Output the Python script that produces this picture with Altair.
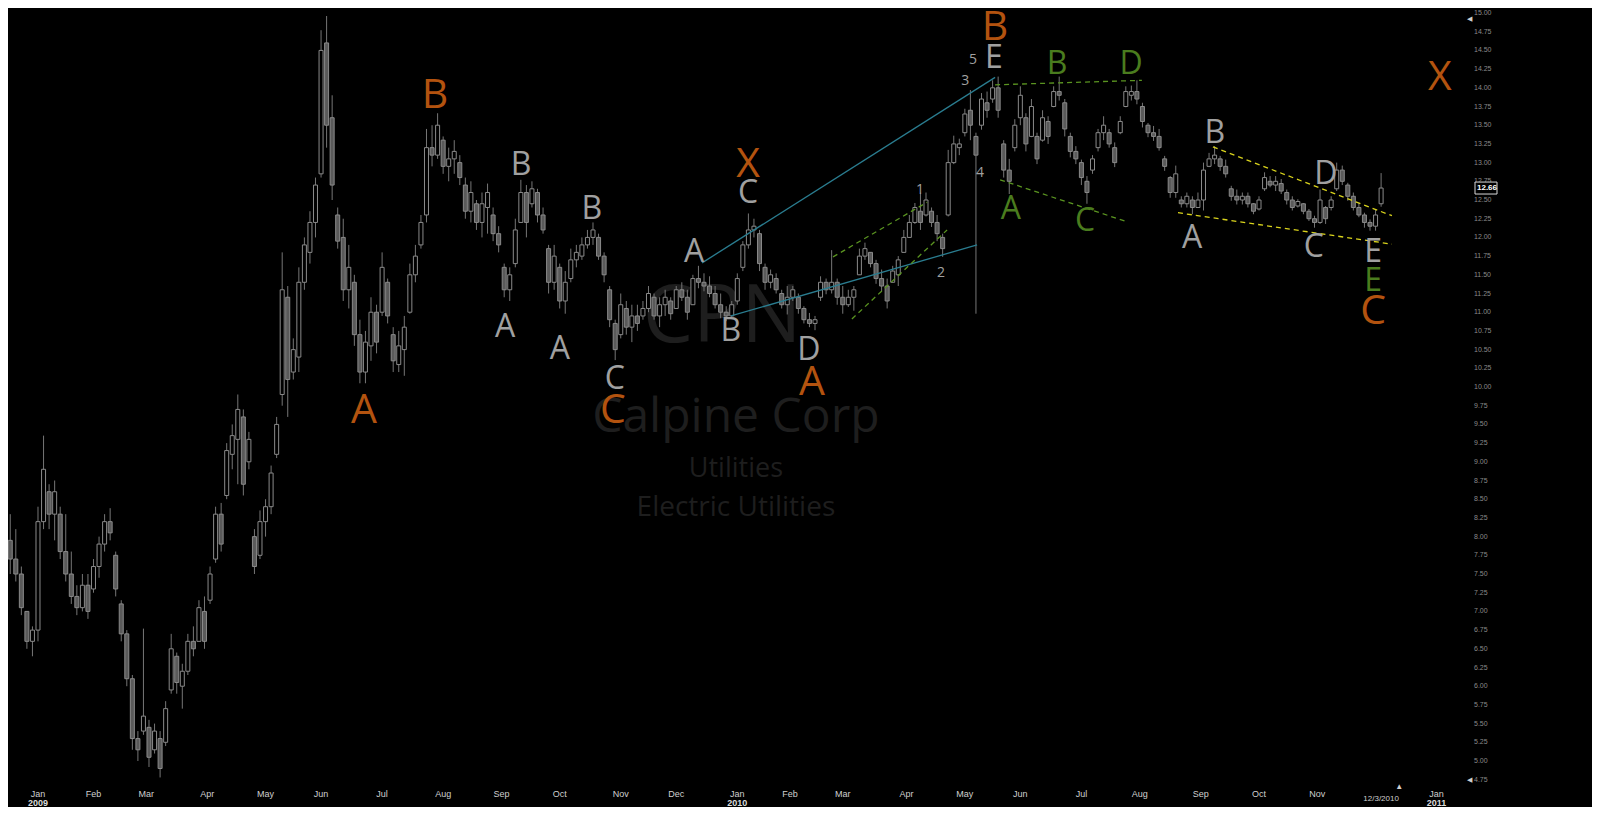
import altair as alt
import pandas as pd

# ---------------- price bars: one bar every second trading day, index 0 = 2 Jan 2009
bar_index = list(range(-14, 485, 2))

high = [
    8.3, 8.1, 8.3, 8.1, 7.6, 7.0, 6.8, 8.4, 9.35, 8.7,
    8.75, 8.4, 8.3, 7.8, 7.35, 7.5, 7.5, 7.7, 8.0, 8.3,
    8.38, 7.8, 7.15, 6.75, 6.15, 5.4, 6.77, 5.55, 5.5, 5.4,
    5.8, 6.7, 6.45, 6.3, 6.7, 6.8, 7.15, 7.2, 7.6, 8.4,
    8.45, 9.25, 9.5, 9.9, 9.7, 9.4, 8.1, 8.35, 8.5, 8.95,
    9.6, 11.8, 11.35, 10.65, 11.6, 12.0, 12.35, 12.8, 14.77, 14.96,
    13.9, 12.4, 12.25, 11.9, 11.5, 10.9, 10.75, 11.2, 11.1, 11.8,
    11.45, 10.8, 10.75, 10.95, 11.65, 11.9, 12.3, 13.45, 13.5, 13.66,
    13.35, 13.2, 13.3, 13.1, 12.8, 12.75, 12.5, 12.6, 12.72, 12.4,
    12.15, 11.65, 11.6, 12.25, 12.77, 12.7, 12.75, 12.65, 12.4, 11.9,
    11.9, 11.65, 11.55, 11.85, 11.9, 12.0, 12.1, 12.2, 12.05, 11.8,
    11.35, 10.9, 11.25, 11.15, 11.1, 11.1, 11.15, 11.35, 11.25, 11.2,
    11.3, 11.2, 11.35, 11.4, 11.3, 11.5, 11.62, 11.52, 11.48, 11.35,
    11.25, 11.08, 11.15, 11.52, 11.95, 12.32, 12.25, 12.1, 11.65, 11.57,
    11.52, 11.3, 11.35, 11.35, 11.25, 11.08, 10.99, 10.95, 11.48, 11.45,
    11.83, 11.45, 11.35, 11.3, 11.35, 11.85, 11.93, 11.8, 11.7, 11.57,
    11.45, 11.62, 11.75, 12.1, 12.3, 12.46, 12.6, 12.6, 12.4, 12.3,
    12.05, 13.17, 13.36, 13.32, 13.72, 13.97, 13.4, 13.93, 13.95, 14.1,
    14.15, 13.3, 13.05, 13.58, 14.02, 13.66, 13.85, 13.4, 13.7, 13.62,
    14.02, 14.15, 13.85, 13.4, 13.22, 13.04, 12.82, 13.1, 13.45, 13.62,
    13.45, 13.27, 13.62, 14.02, 14.03, 14.1, 13.8, 13.53, 13.49, 13.45,
    13.09, 12.82, 12.96, 12.55, 12.6, 12.55, 12.6, 13.0, 13.13, 13.22,
    13.09, 13.04, 12.69, 12.64, 12.6, 12.6, 12.46, 12.55, 12.87, 12.82,
    12.82, 12.78, 12.64, 12.55, 12.51, 12.46, 12.38, 12.29, 12.64, 12.42,
    12.55, 13.0, 12.96, 12.73, 12.6, 12.46, 12.33, 12.24, 12.38, 12.86,
]
low = [
    7.05, 7.55, 7.5, 7.4, 6.95, 6.5, 6.4, 6.6, 8.1, 8.1,
    7.95, 7.7, 7.4, 7.1, 6.95, 7.0, 6.9, 7.25, 7.45, 7.8,
    7.95, 7.2, 6.6, 6.0, 5.15, 5.0, 5.35, 4.92, 5.1, 4.78,
    5.2, 5.9, 5.9, 5.7, 6.15, 6.4, 6.6, 6.5, 7.1, 7.65,
    7.8, 8.5, 8.9, 8.7, 8.55, 8.9, 7.5, 7.7, 8.0, 8.3,
    9.05, 9.75, 9.6, 10.1, 10.2, 11.3, 11.65, 12.0, 12.8, 13.2,
    12.5, 11.85, 11.15, 11.05, 10.55, 10.05, 10.05, 10.35, 10.45, 10.95,
    10.85, 10.2, 10.2, 10.15, 10.98, 11.4, 11.85, 12.2, 12.95, 13.05,
    12.85, 12.75, 12.85, 12.7, 12.25, 12.2, 12.1, 12.0, 12.05, 11.95,
    11.8, 11.2, 11.15, 11.6, 12.2, 12.0, 12.4, 12.2, 12.05, 11.25,
    11.3, 11.05, 10.98, 11.4, 11.6, 11.7, 11.85, 11.9, 11.7, 11.4,
    10.8, 10.36, 10.65, 10.7, 10.6, 10.75, 10.9, 11.0, 10.9, 10.8,
    10.95, 10.9, 11.05, 11.15, 10.9, 11.15, 11.32, 11.28, 11.2, 11.05,
    10.92, 10.88, 10.92, 11.1, 11.55, 11.85, 12.0, 11.55, 11.3, 11.32,
    11.25, 11.05, 10.97, 11.15, 10.98, 10.85, 10.8, 10.76, 11.15, 11.24,
    11.25, 11.1, 10.98, 11.07, 11.02, 11.5, 11.7, 11.6, 11.38, 11.28,
    11.05, 11.4, 11.35, 11.8, 12.0, 12.18, 12.1, 12.28, 12.14, 11.95,
    11.74, 12.28, 12.98, 13.1, 13.35, 13.3, 10.98, 13.44, 13.6, 13.8,
    13.6, 12.8, 12.58, 13.15, 13.5, 13.15, 13.34, 12.98, 13.28, 13.25,
    13.74, 13.83, 13.35, 13.07, 12.98, 12.7, 12.45, 12.85, 13.15, 13.3,
    13.2, 12.94, 13.38, 13.74, 13.83, 13.78, 13.47, 13.34, 13.29, 13.16,
    12.89, 12.53, 12.53, 12.4, 12.4, 12.31, 12.4, 12.36, 12.94, 12.98,
    12.89, 12.8, 12.49, 12.44, 12.44, 12.4, 12.31, 12.36, 12.62, 12.67,
    12.62, 12.58, 12.44, 12.36, 12.4, 12.31, 12.22, 12.13, 12.18, 12.18,
    12.36, 12.62, 12.7, 12.49, 12.36, 12.27, 12.13, 12.09, 12.09, 12.41,
]
open_ = [
    7.9, 7.6, 7.95, 7.7, 7.5, 7.0, 6.6, 6.75, 8.2, 8.6,
    8.3, 8.3, 7.8, 7.5, 7.2, 7.05, 7.35, 7.3, 7.6, 7.9,
    8.2, 7.75, 7.1, 6.7, 6.1, 5.3, 5.4, 5.45, 5.15, 5.3,
    5.25, 5.95, 6.4, 6.0, 6.2, 6.6, 6.6, 7.0, 7.15, 7.7,
    8.3, 8.55, 9.1, 9.3, 9.6, 9.0, 8.0, 7.75, 8.2, 8.4,
    9.1, 9.9, 11.2, 10.2, 10.4, 11.4, 11.8, 12.2, 12.85, 14.6,
    13.6, 12.3, 12.0, 11.3, 11.4, 10.7, 10.2, 10.55, 11.0, 11.0,
    11.4, 10.7, 10.3, 10.5, 11.0, 11.5, 11.9, 12.3, 13.2, 13.1,
    13.3, 12.95, 13.05, 13.0, 12.7, 12.35, 12.45, 12.2, 12.4, 12.3,
    12.05, 11.6, 11.3, 11.65, 12.2, 12.6, 12.45, 12.6, 12.3, 11.85,
    11.4, 11.6, 11.15, 11.45, 11.7, 11.75, 11.9, 12.0, 12.0, 11.75,
    11.3, 10.85, 10.7, 11.05, 10.8, 10.95, 10.95, 11.05, 11.2, 10.95,
    11.1, 11.15, 11.05, 11.3, 11.2, 11.1, 11.45, 11.4, 11.35, 11.25,
    11.1, 11.0, 10.95, 11.15, 11.6, 11.9, 12.1, 12.05, 11.6, 11.4,
    11.45, 11.25, 11.1, 11.2, 11.2, 11.05, 10.9, 10.85, 11.2, 11.4,
    11.3, 11.4, 11.2, 11.1, 11.2, 11.5, 11.75, 11.8, 11.65, 11.45,
    11.35, 11.4, 11.5, 11.8, 12.0, 12.2, 12.35, 12.3, 12.35, 12.2,
    12.0, 12.3, 13.0, 13.2, 13.4, 13.7, 13.35, 13.5, 13.8, 13.85,
    14.0, 13.25, 12.9, 13.2, 13.6, 13.6, 13.35, 13.35, 13.3, 13.55,
    13.75, 13.95, 13.8, 13.35, 13.15, 13.0, 12.75, 12.9, 13.2, 13.4,
    13.4, 13.2, 13.4, 13.75, 13.9, 13.95, 13.75, 13.5, 13.4, 13.35,
    13.05, 12.8, 12.6, 12.5, 12.45, 12.5, 12.4, 12.5, 12.95, 13.05,
    13.05, 12.95, 12.65, 12.55, 12.5, 12.55, 12.45, 12.38, 12.65, 12.75,
    12.7, 12.72, 12.6, 12.5, 12.42, 12.45, 12.35, 12.25, 12.2, 12.4,
    12.4, 12.65, 12.9, 12.7, 12.55, 12.4, 12.3, 12.2, 12.15, 12.45,
]
close = [
    7.6, 7.95, 7.7, 7.5, 7.05, 6.6, 6.75, 8.2, 8.9, 8.3,
    8.6, 7.8, 7.5, 7.2, 7.05, 7.35, 7.0, 7.6, 7.9, 8.2,
    8.05, 7.3, 6.7, 6.1, 5.3, 5.15, 5.6, 5.05, 5.4, 4.9,
    5.7, 6.5, 6.05, 6.2, 6.6, 6.5, 7.05, 6.6, 7.5, 8.3,
    7.9, 9.15, 9.35, 9.7, 8.7, 9.3, 7.6, 8.2, 8.4, 8.85,
    9.5, 11.3, 10.1, 10.5, 11.4, 11.9, 12.2, 12.7, 14.5, 13.5,
    12.7, 11.95, 11.3, 11.6, 10.7, 10.2, 10.6, 11.0, 10.6, 11.6,
    10.95, 10.35, 10.55, 10.8, 11.5, 11.75, 12.2, 13.2, 13.1, 13.5,
    12.95, 13.05, 13.15, 12.8, 12.35, 12.6, 12.2, 12.45, 12.6, 12.05,
    11.9, 11.3, 11.5, 12.1, 12.6, 12.2, 12.65, 12.3, 12.1, 11.4,
    11.75, 11.15, 11.4, 11.7, 11.8, 11.9, 12.0, 12.1, 11.75, 11.5,
    10.9, 10.5, 11.1, 10.8, 10.95, 10.85, 11.05, 11.25, 10.95, 11.1,
    11.2, 10.98, 11.3, 11.2, 11.0, 11.45, 11.4, 11.35, 11.25, 11.1,
    11.0, 10.95, 11.1, 11.45, 11.9, 12.1, 12.15, 11.65, 11.4, 11.5,
    11.3, 11.1, 11.2, 11.3, 11.05, 10.9, 10.85, 10.9, 11.4, 11.3,
    11.4, 11.2, 11.1, 11.2, 11.3, 11.75, 11.85, 11.65, 11.45, 11.35,
    11.15, 11.55, 11.7, 12.0, 12.2, 12.4, 12.2, 12.5, 12.2, 12.05,
    11.85, 13.0, 13.25, 13.25, 13.65, 13.5, 13.1, 13.85, 13.7, 14.0,
    13.7, 12.9, 12.75, 13.5, 13.9, 13.25, 13.75, 13.05, 13.6, 13.35,
    13.95, 13.9, 13.45, 13.15, 13.05, 12.8, 12.6, 13.05, 13.4, 13.5,
    13.25, 13.0, 13.55, 13.95, 13.95, 13.85, 13.55, 13.4, 13.35, 13.2,
    12.95, 12.6, 12.85, 12.45, 12.55, 12.4, 12.5, 12.9, 13.05, 13.1,
    12.95, 12.85, 12.55, 12.5, 12.55, 12.45, 12.35, 12.5, 12.8, 12.7,
    12.75, 12.62, 12.5, 12.4, 12.48, 12.35, 12.25, 12.2, 12.5, 12.25,
    12.5, 12.9, 12.75, 12.55, 12.4, 12.3, 12.2, 12.15, 12.3, 12.66,
]
assert len(bar_index) == len(high) == len(low) == len(open_) == len(close)

# ---------------- wave annotations (trading-day index, price)
orange_text = ["A", "B", "C", "X", "A", "B", "C", "X"]
orange_i = [117.5, 143.1, 207.2, 255.9, 278.9, 344.9, 481.1, 505.2]
orange_v = [9.68, 13.89, 9.68, 12.97, 10.05, 14.80, 11.0, 14.13]

gray_text = ["A", "B", "A", "B", "C", "A", "C", "B", "D", "E", "A", "B", "C", "D", "E"]
gray_i = [168.3, 174.1, 188.1, 199.6, 207.9, 236.4, 255.9, 249.7, 277.8, 344.5,
          415.9, 424.1, 459.8, 464.1, 481.1]
gray_v = [10.8, 12.97, 10.51, 12.38, 10.11, 11.8, 12.59, 10.75, 10.49, 14.4,
          11.99, 13.40, 11.87, 12.85, 11.8]

green_text = ["A", "B", "C", "D", "E"]
green_i = [350.6, 367.2, 377.3, 393.9, 481.1]
green_v = [12.38, 14.32, 12.22, 14.32, 11.42]

num_text = ["1", "2", "3", "4", "5"]
num_i = [317.8, 325.4, 334.1, 339.5, 336.9]
num_v = [12.63, 11.52, 14.09, 12.86, 14.37]

# trend lines: start index, start price, end index, end price
blue_i1 = [239.3, 249.7]
blue_v1 = [11.66, 10.95]
blue_i2 = [344.9, 338.4]
blue_v2 = [14.14, 11.90]

green_i1 = [286.5, 293.3, 344.9, 346.7]
green_v1 = [11.74, 10.91, 14.04, 12.77]
green_i2 = [320.4, 327.6, 397.8, 392.4]
green_v2 = [12.47, 12.10, 14.10, 12.21]

yellow_i1 = [423.4, 410.8]
yellow_v1 = [13.21, 12.33]
yellow_i2 = [487.9, 487.9]
yellow_v2 = [12.29, 11.91]

# watermark
wm_text = ["CPN", "Calpine Corp", "Utilities", "Electric Utilities"]
wm_i = [246.5, 251.5, 251.5, 251.5]
wm_v = [10.92, 9.59, 8.90, 8.38]

# price axis ticks
y_ticks = [4.75 + 0.25 * k for k in range(42)]
last_price = 12.66

# ---------------- trading calendar for the time labels
holidays = ["2008-12-25", "2009-01-01", "2009-01-19", "2009-02-16", "2009-04-10",
            "2009-05-25", "2009-07-03", "2009-09-07", "2009-11-26", "2009-12-25",
            "2010-01-01", "2010-01-18", "2010-02-15", "2010-04-02", "2010-05-31",
            "2010-07-05", "2010-09-06", "2010-11-25", "2010-12-24", "2011-01-17"]
days = pd.bdate_range("2008-12-01", "2011-02-28")
days = days[~days.isin(pd.to_datetime(holidays))]
origin = list(days).index(pd.Timestamp("2009-01-02"))
cal = pd.DataFrame({"d": days, "i": range(-origin, len(days) - origin)})
first = cal.groupby([cal.d.dt.year, cal.d.dt.month]).first().reset_index(drop=True)
first = first[(first.d >= "2009-01-01") & (first.d <= "2011-01-31")]
first = first[~((first.d.dt.year == 2010) & (first.d.dt.month == 12))]
months = pd.DataFrame({
    "i": first.i.values,
    "m": first.d.dt.strftime("%b").values,
    "y": [str(d.year) if d.month == 1 else "" for d in first.d],
})
cur_i = int(cal.loc[cal.d == pd.Timestamp("2010-12-03"), "i"].iloc[0])
cur_df = pd.DataFrame({"i": [cur_i], "t": ["12/3/2010"]})

# ---------------- scales (plot area mapped onto the reference frame)
XS = alt.Scale(domain=[-10.81, 510.63], nice=False, zero=False, padding=0)
YS = alt.Scale(domain=[4.706, 15.067], nice=False, zero=False, padding=0)
NOX = None

bars = pd.DataFrame({"i": bar_index, "o": open_, "h": high, "l": low, "c": close})

wick = alt.Chart(bars).mark_rule(color="#767676", strokeWidth=1, clip=True).encode(
    x=alt.X("i:Q", scale=XS, axis=NOX),
    y=alt.Y("l:Q", scale=YS, axis=None),
    y2="h:Q",
)
body = alt.Chart(bars).mark_bar(size=4, stroke="#8a8a8a", strokeWidth=1, clip=True).encode(
    x=alt.X("i:Q", scale=XS, axis=NOX),
    y=alt.Y("o:Q", scale=YS, axis=None),
    y2="c:Q",
    fill=alt.condition("datum.c < datum.o", alt.value("#5a5a5a"), alt.value("#000000")),
)

wm = pd.DataFrame({"t": wm_text, "v": wm_v, "i": wm_i})
wm_layers = []
for t, fs in zip(wm_text, [80, 48, 27, 28]):
    wm_layers.append(
        alt.Chart(wm[wm.t == t]).mark_text(fontSize=fs, font="Open Sans", color="#1e1e1e",
                                            align="center", baseline="middle").encode(
            x=alt.X("i:Q", scale=XS, axis=NOX), y=alt.Y("v:Q", scale=YS, axis=None), text="t:N"))


def seg_layer(i1, v1, i2, v2, color, dash):
    df = pd.DataFrame({"i1": i1, "v1": v1, "i2": i2, "v2": v2})
    kw = dict(color=color, strokeWidth=1.3, clip=True)
    if dash:
        kw["strokeDash"] = [5, 4]
    return alt.Chart(df).mark_rule(**kw).encode(
        x=alt.X("i1:Q", scale=XS, axis=NOX), y=alt.Y("v1:Q", scale=YS, axis=None),
        x2="i2:Q", y2="v2:Q")


def label_layer(texts, xs, ys, color, size):
    df = pd.DataFrame({"t": texts, "i": xs, "v": ys})
    return alt.Chart(df).mark_text(color=color, fontSize=size, font="Open Sans",
                                   align="center", baseline="middle").encode(
        x=alt.X("i:Q", scale=XS, axis=NOX), y=alt.Y("v:Q", scale=YS, axis=None), text="t:N")


lines = [
    seg_layer(blue_i1, blue_v1, blue_i2, blue_v2, "#2a7d90", False),
    seg_layer(green_i1, green_v1, green_i2, green_v2, "#5a9420", True),
    seg_layer(yellow_i1, yellow_v1, yellow_i2, yellow_v2, "#d9d31c", True),
]
labels = [
    label_layer(orange_text, orange_i, orange_v, "#b3530f", 41),
    label_layer(gray_text, gray_i, gray_v, "#a0a0a0", 32),
    label_layer(green_text, green_i, green_v, "#4a7c1e", 32),
    label_layer(num_text, num_i, num_v, "#a0a0a0", 14),
]

# right price scale drawn as text marks
tick_df = pd.DataFrame({"v": y_ticks, "t": [f"{v:.2f}" for v in y_ticks]})
tick_lbl = alt.Chart(tick_df).mark_text(color="#8a8a8a", fontSize=7, font="Liberation Sans",
                                        align="left", baseline="middle").encode(
    x=alt.value(1466), y=alt.Y("v:Q", scale=YS, axis=None), text="t:N")

month_lbl = alt.Chart(months).mark_text(color="#cfcfcf", fontSize=9, font="Liberation Sans",
                                        align="center", baseline="middle").encode(
    x=alt.X("i:Q", scale=XS, axis=NOX), y=alt.value(786), text="m:N")
year_lbl = alt.Chart(months).mark_text(color="#dcdcdc", fontSize=9, font="Liberation Sans",
                                       fontWeight="bold", align="center", baseline="middle").encode(
    x=alt.X("i:Q", scale=XS, axis=NOX), y=alt.value(795), text="y:N")
cur_lbl = alt.Chart(cur_df).mark_text(color="#cfcfcf", fontSize=8, font="Liberation Sans",
                                      align="center", baseline="middle").encode(
    x=alt.X("i:Q", scale=XS, axis=NOX), y=alt.value(791), text="t:N")
cur_tri = alt.Chart(cur_df).mark_text(color="#cfcfcf", fontSize=8, text="▲", dx=18,
                                      align="center", baseline="middle").encode(
    x=alt.X("i:Q", scale=XS, axis=NOX), y=alt.value(779))

price_df = pd.DataFrame({"v": [last_price], "t": [f"{last_price:.2f}"],
                         "v1": [last_price + 0.08], "v2": [last_price - 0.08]})
price_box = alt.Chart(price_df).mark_rect(fill="#000000", stroke="#d8d8d8", strokeWidth=1).encode(
    x=alt.value(1467), x2=alt.value(1489),
    y=alt.Y("v1:Q", scale=YS, axis=None), y2="v2:Q")
price_txt = alt.Chart(price_df).mark_text(color="#ffffff", fontSize=8, font="Liberation Sans",
                                          fontWeight="bold", align="left", baseline="middle").encode(
    x=alt.value(1469), y=alt.Y("v:Q", scale=YS, axis=None), text="t:N")
edge_df = pd.DataFrame({"v": [y_ticks[-1] - 0.08, y_ticks[0]]})
edge_tri = alt.Chart(edge_df).mark_text(color="#cfcfcf", fontSize=7, text="◀",
                                        align="center", baseline="middle").encode(
    x=alt.value(1461), y=alt.Y("v:Q", scale=YS, axis=None))

chart = alt.layer(
    *wm_layers, wick, body, *lines, *labels, tick_lbl,
    month_lbl, year_lbl, cur_lbl, cur_tri, price_box, price_txt, edge_tri,
).properties(
    width=1447, height=775,
    padding={"left": 0, "top": 0, "right": 137, "bottom": 24},
    autosize=alt.AutoSizeParams(type="none"),
).configure(background="#000000").configure_view(stroke=None)

chart.save("out.html", embed_options={"renderer": "svg", "actions": False})
